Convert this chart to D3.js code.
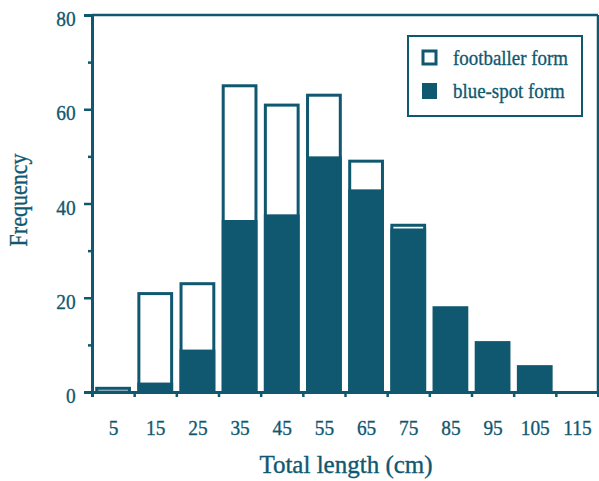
<!DOCTYPE html>
<html lang="en">
<head>
    <meta charset="UTF-8">
    <title>Frequency by total length</title>
    <style>
        body {
            margin: 0;
            padding: 0;
            background-color: #fff;
        }
        svg {
            display: block;
        }
        text {
            font-family: 'Liberation Serif', 'DejaVu Serif', serif;
            fill: #0f5870;
            stroke: #0f5870;
            stroke-width: 0.35px;
        }
    </style>
    <script src="https://d3js.org/d3.v7.min.js"></script>
</head>
<body>
    <div id="chart"></div>

    <script>
        // length classes (bin centres, cm)
        var categories = [5, 15, 25, 35, 45, 55, 65, 75, 85, 95, 105, 115];
        var blueSpot = [0, 2, 9, 36.5, 37.7, 50, 43, 34.7, 18.2, 10.8, 5.7, 0];
        var footballer = [1.1, 19.2, 14.3, 28.8, 23.5, 13.3, 6.3, 1, 0, 0, 0, 0];
        var binEdges = [0, 10, 20, 30, 40, 50, 60, 70, 80, 90, 100, 110, 120];
        var yTicks = [0, 20, 40, 60, 80];
        var yMinorTicks = [10, 30, 50, 70];
        var seriesNames = ['footballer form', 'blue-spot form'];

        var color = '#0f5870';
        var width = 599, height = 481;
        var margin = { top: 15, right: 1, bottom: 89, left: 92 };

        var svg = d3.select('#chart')
            .append('svg')
            .attr('width', width)
            .attr('height', height);

        var x = d3.scaleLinear()
            .domain([0, 120])
            .range([margin.left, width - margin.right]);

        var y = d3.scaleLinear()
            .domain([0, 80])
            .range([height - margin.bottom, margin.top]);

        var pad = 3.2;   // gap on each side of a bar
        var sw = 3;      // outline width

        // bars: outline for total, fill for blue-spot part
        var bars = svg.append('g');
        categories.forEach(function (c, i) {
            var total = blueSpot[i] + footballer[i];
            if (total <= 0) return;
            var x0 = x(c - 5) + pad, x1 = x(c + 5) - pad;
            if (footballer[i] > 0) {
                bars.append('rect')
                    .attr('x', x0 + sw / 2)
                    .attr('y', y(total) + sw / 2)
                    .attr('width', x1 - x0 - sw)
                    .attr('height', y(0) - y(total) - sw / 2)
                    .attr('fill', '#fff')
                    .attr('stroke', color)
                    .attr('stroke-width', sw);
            }
            if (blueSpot[i] > 0) {
                bars.append('rect')
                    .attr('x', x0)
                    .attr('y', y(blueSpot[i]))
                    .attr('width', x1 - x0)
                    .attr('height', y(0) - y(blueSpot[i]))
                    .attr('fill', color);
            }
        });

        // frame: top and right lines
        svg.append('line')
            .attr('x1', x(0)).attr('x2', x(120))
            .attr('y1', y(80)).attr('y2', y(80))
            .attr('stroke', color).attr('stroke-width', 2.5);
        svg.append('line')
            .attr('x1', x(120)).attr('x2', x(120))
            .attr('y1', y(80)).attr('y2', y(0))
            .attr('stroke', color).attr('stroke-width', 2.5);

        // y axis
        svg.append('g')
            .attr('class', 'ylabels')
            .attr('transform', 'translate(' + x(0) + ',0)')
            .call(d3.axisLeft(y).tickValues(yTicks).tickSize(8).tickPadding(10.5));
        svg.append('g')
            .attr('transform', 'translate(' + x(0) + ',0)')
            .call(d3.axisLeft(y).tickValues(yMinorTicks).tickSize(4).tickFormat(''));

        // x axis: ticks at bin edges, labels at bin centres
        svg.append('g')
            .attr('transform', 'translate(0,' + y(0) + ')')
            .call(d3.axisBottom(x).tickValues(binEdges).tickSize(5).tickFormat(''));
        svg.append('g')
            .attr('class', 'xlabels')
            .attr('transform', 'translate(0,' + y(0) + ')')
            .call(d3.axisBottom(x).tickValues(categories).tickSize(0).tickPadding(27).tickFormat(d3.format('d')));

        svg.selectAll('.domain')
            .attr('stroke', color)
            .attr('stroke-width', 3);
        svg.selectAll('.xlabels .domain').remove();
        svg.selectAll('.tick line')
            .attr('stroke', color)
            .attr('stroke-width', 2.5);
        // the scanned lettering is a little narrower than Liberation Serif
        svg.selectAll('.tick text')
            .style('font-family', "'Liberation Serif', serif")
            .style('font-size', '22px')
            .attr('fill', color)
            .attr('transform', 'scale(0.88,1)');
        svg.selectAll('.ylabels .tick text')
            .attr('y', 3.5);

        // axis titles
        svg.append('text')
            .attr('x', 346)
            .attr('y', 473)
            .attr('text-anchor', 'middle')
            .style('font-size', '25px')
            .text('Total length (cm)');

        svg.append('text')
            .attr('transform', 'translate(27,200) rotate(-90) scale(0.88,1)')
            .attr('text-anchor', 'middle')
            .style('font-size', '25px')
            .text('Frequency');

        // legend
        var legend = svg.append('g');
        legend.append('rect')
            .attr('x', 408).attr('y', 36)
            .attr('width', 174).attr('height', 80)
            .attr('fill', '#fff')
            .attr('stroke', color)
            .attr('stroke-width', 2);
        seriesNames.forEach(function (name, i) {
            var ly = 50 + i * 33;
            if (i === 0) {
                legend.append('rect')
                    .attr('x', 423).attr('y', ly + 1)
                    .attr('width', 13).attr('height', 13)
                    .attr('fill', '#fff')
                    .attr('stroke', color)
                    .attr('stroke-width', 3);
            } else {
                legend.append('rect')
                    .attr('x', 422).attr('y', ly)
                    .attr('width', 15).attr('height', 16)
                    .attr('fill', color);
            }
            legend.append('text')
                .attr('transform', 'translate(453,' + (ly + 15) + ') scale(0.86,1)')
                .style('font-size', '22px')
                .text(name);
        });
    </script>
</body>
</html>
